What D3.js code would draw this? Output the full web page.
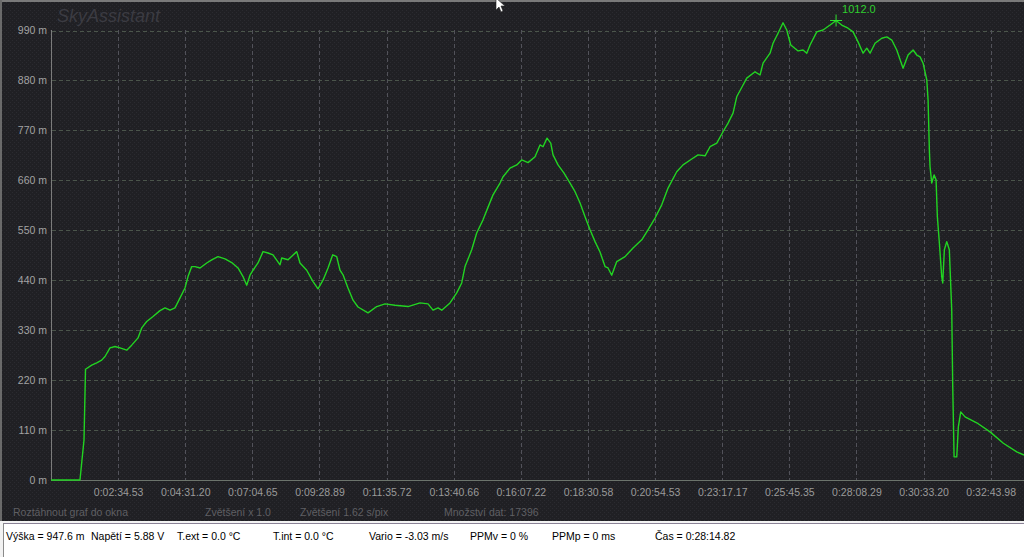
<!DOCTYPE html>
<html><head><meta charset="utf-8">
<script src="https://cdn.jsdelivr.net/npm/d3@7"></script>
<style>html,body{margin:0;padding:0;background:#fff;overflow:hidden}svg{display:block}</style>
</head><body>
<script>
// ---- data ----
const sampleIndex = [0,518,536,590,617,728,817,906,966,1055,1144,1234,1354,1443,1556,1622,1711,1824,1949,2038,2128,2217,2307,2396,2450,2516,2575,2664,2784,2873,2986,3111,3231,3344,3433,3499,3558,3612,3701,3791,3880,3969,4095,4125,4238,4393,4452,4572,4685,4774,4863,4953,5037,5108,5167,5221,5310,5400,5489,5668,5824,5972,6151,6383,6598,6741,6830,6920,6986,7134,7254,7343,7402,7522,7611,7724,7814,7903,8028,8082,8207,8327,8416,8529,8654,8743,8797,8868,8935,8976,9065,9172,9280,9369,9459,9548,9637,9727,9816,9906,9959,10025,10115,10263,10406,10562,10674,10800,10919,11032,11187,11300,11456,11568,11694,11783,11903,12015,12105,12194,12260,12373,12439,12588,12677,12731,12856,12909,12999,13088,13154,13226,13357,13446,13512,13571,13691,13803,13929,14036,14137,14250,14340,14429,14519,14585,14644,14733,14853,14943,15032,15121,15234,15323,15413,15479,15538,15592,15658,15681,15704,15716,15747,15788,15824,15847,15883,15925,15943,15972,16015,16061,16104,16122,16146,16194,16222,16265,16342,16551,16789,17027,17267,17396];
const altitude = [0,0,22,88,244,253,258,264,272,291,294,291,286,297,313,335,349,360,373,379,374,379,401,423,448,470,470,467,478,485,492,487,479,467,448,429,451,462,478,503,500,496,474,489,485,503,478,462,437,421,440,467,496,492,462,452,423,396,381,368,382,388,385,382,390,388,374,379,374,390,412,434,470,507,544,573,601,628,654,668,687,694,705,699,712,738,734,753,742,716,694,676,654,635,610,580,551,525,502,470,467,451,481,492,511,529,551,577,606,643,679,694,707,716,714,734,742,767,786,808,844,870,885,899,892,918,940,962,984,1007,991,958,945,947,940,958,987,991,1002,1012,1002,995,987,965,940,951,940,962,973,976,969,947,907,936,947,936,932,918,881,837,727,690,654,672,661,580,522,448,434,507,525,507,374,205,51,51,117,150,139,126,106,81,62,55];
const totalSamples = 17396;
const yTicks = [0,110,220,330,440,550,660,770,880,990];
const xTickIndex = [1200,2400,3600,4800,6000,7200,8400,9600,10800,12000,13200,14400,15600,16800];
const xTickLabels = ["0:02:34.53","0:04:31.20","0:07:04.65","0:09:28.89","0:11:35.72","0:13:40.66","0:16:07.22","0:18:30.58","0:20:54.53","0:23:17.17","0:25:45.35","0:28:08.29","0:30:33.20","0:32:43.98"];
const peak = {index:14036, value:1012.0};
const infoTexts = ["Roztáhnout graf do okna","Zvětšení x 1.0","Zvětšení  1.62 s/pix","Množství dat: 17396"];
const statusTexts = ["Výška = 947.6 m","Napětí = 5.88 V","T.ext = 0.0 °C","T.int = 0.0 °C","Vario = -3.03 m/s","PPMv = 0 %","PPMp = 0 ms","Čas = 0:28:14.82"];

// ---- layout ----
const W=1024,H=557;
const svg=d3.select("body").append("svg").attr("width",W).attr("height",H);
const font="'Liberation Sans', Arial, sans-serif";

const defs=svg.append("defs");
const pat=defs.append("pattern").attr("id","noise").attr("width",4).attr("height",4).attr("patternUnits","userSpaceOnUse");
pat.append("rect").attr("width",4).attr("height",4).attr("fill","#202024");
pat.append("rect").attr("x",0).attr("y",0).attr("width",1).attr("height",1).attr("fill","#2b2b30");
pat.append("rect").attr("x",2).attr("y",2).attr("width",1).attr("height",1).attr("fill","#2b2b30");

// chart panel
svg.append("rect").attr("x",0).attr("y",0).attr("width",W).attr("height",521).attr("fill","url(#noise)");
svg.append("rect").attr("x",0).attr("y",0).attr("width",W).attr("height",2).attr("fill","#7a7a7a");
svg.append("rect").attr("x",0).attr("y",0).attr("width",2).attr("height",521).attr("fill","#6a6a6a");

const x=d3.scaleLinear().domain([0,totalSamples]).range([51,1024]);
const y=d3.scaleLinear().domain([0,990]).range([480,30.5]);

// title
svg.append("text").attr("x",57).attr("y",22).attr("font-family",font).attr("font-style","italic")
  .attr("font-size",18).attr("fill","#3b3b42").text("SkyAssistant");

// gridlines
const g=svg.append("g");
g.selectAll(".hg").data(yTicks.filter(d=>d>0)).join("line")
  .attr("x1",52).attr("x2",W).attr("y1",d=>Math.round(y(d))+0.5).attr("y2",d=>Math.round(y(d))+0.5)
  .attr("stroke","#4b554b").attr("stroke-dasharray","4,3");
g.selectAll(".vg").data(xTickIndex).join("line")
  .attr("x1",d=>Math.round(x(d))+0.5).attr("x2",d=>Math.round(x(d))+0.5).attr("y1",30).attr("y2",480)
  .attr("stroke","#52525a").attr("stroke-dasharray","4,3");

// axes lines
svg.append("line").attr("x1",51.5).attr("x2",51.5).attr("y1",30).attr("y2",480.5).attr("stroke","#7c7c7c");
svg.append("line").attr("x1",51).attr("x2",W).attr("y1",480.5).attr("y2",480.5).attr("stroke","#6c746c");

// y axis labels
const yAxis=d3.axisLeft(y).tickValues(yTicks).tickSize(0).tickPadding(2).tickFormat(d=>d+" m");
const ya=svg.append("g").attr("transform","translate(49,0)").call(yAxis);
ya.select(".domain").remove();
ya.selectAll("text").attr("font-family",font).attr("font-size",10.5).attr("fill","#a3a3a3");

// x axis labels
const xAxis=d3.axisBottom(x).tickValues(xTickIndex).tickSize(0).tickPadding(9).tickFormat((d,i)=>xTickLabels[i]);
const xa=svg.append("g").attr("transform","translate(0,480)").call(xAxis);
xa.select(".domain").remove();
xa.selectAll("text").attr("font-family",font).attr("font-size",10.5).attr("fill","#9a9a9a");

// line
const pts=sampleIndex.map((s,i)=>[s,altitude[i]]);
svg.append("path").datum(pts)
  .attr("d",d3.line().x(d=>x(d[0])).y(d=>y(d[1])))
  .attr("fill","none").attr("stroke","#22d422").attr("stroke-width",1.4).attr("stroke-linejoin","round");

// peak marker
const px=x(peak.index), py=y(peak.value);
svg.append("path").attr("d",`M${px-6},${py}H${px+6}M${px},${py-6}V${py+6}`).attr("stroke","#2ee02e").attr("stroke-width",1);
svg.append("text").attr("x",px+6).attr("y",py-8).attr("font-family",font).attr("font-size",11)
  .attr("fill","#2fcf2f").text(peak.value.toFixed(1));

// info row
const infoX=[13,205,300,444];
svg.selectAll(".info").data(infoTexts).join("text").attr("x",(d,i)=>infoX[i]).attr("y",516)
  .attr("font-family",font).attr("font-size",10.5).attr("fill","#5f5f63").text(d=>d);

// status bar
svg.append("rect").attr("x",0).attr("y",521).attr("width",W).attr("height",36).attr("fill","#f2f2f2");
svg.append("rect").attr("x",3).attr("y",523).attr("width",W-3).attr("height",34).attr("fill","#ffffff");
svg.append("line").attr("x1",3).attr("x2",W).attr("y1",523.5).attr("y2",523.5).attr("stroke","#8a8296");
svg.append("line").attr("x1",3.5).attr("x2",3.5).attr("y1",523).attr("y2",H).attr("stroke","#8a8a8a");
const stX=[6,91,177,273,369,470,552,655];
svg.selectAll(".st").data(statusTexts).join("text").attr("x",(d,i)=>stX[i]).attr("y",540)
  .attr("font-family",font).attr("font-size",10.5).attr("fill","#000").text(d=>d);

// mouse cursor
svg.append("path").attr("d","M496,-2 L496,10 L499,7 L501,12 L503,11 L501,6 L505,6 Z")
  .attr("fill","#fff").attr("stroke","#222").attr("stroke-width",0.6);
</script>
</body></html>
